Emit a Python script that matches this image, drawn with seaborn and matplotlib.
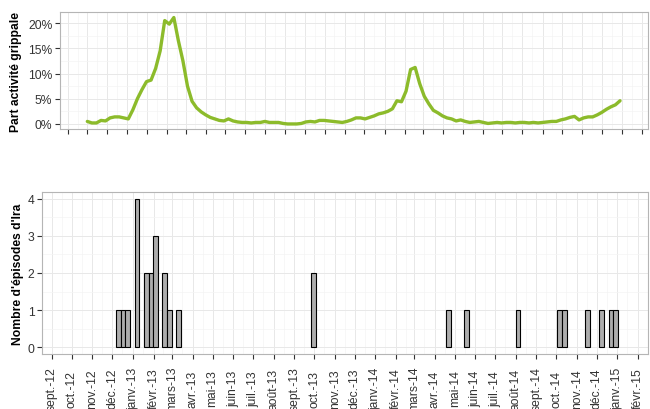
import numpy as np
import pandas as pd
import matplotlib
matplotlib.use("Agg")
import matplotlib.pyplot as plt
import matplotlib.dates as mdates
from matplotlib.ticker import FixedLocator, FuncFormatter, MultipleLocator
import seaborn as sns

# ---------------- data ----------------
flu_start = "2012-10-01"  # first weekly point of the flu-activity series
flu_share = [
    0.5, 0.2, 0.2, 0.7, 0.6, 1.2, 1.4, 1.4, 1.2, 1.0,
    2.8, 5.0, 6.8, 8.4, 8.7, 11.0, 14.5, 20.5, 19.8, 21.1,
    16.5, 12.5, 7.5, 4.5, 3.2, 2.4, 1.8, 1.3, 1.0, 0.7,
    0.6, 1.0, 0.6, 0.4, 0.3, 0.3, 0.2, 0.3, 0.3, 0.5,
    0.3, 0.3, 0.3, 0.1, 0.0, 0.0, 0.0, 0.1, 0.4, 0.5,
    0.4, 0.7, 0.7, 0.6, 0.5, 0.4, 0.3, 0.5, 0.8, 1.2,
    1.2, 1.0, 1.3, 1.6, 2.0, 2.2, 2.5, 3.0, 4.6, 4.4,
    6.5, 10.8, 11.2, 8.0, 5.5, 4.0, 2.7, 2.2, 1.6, 1.2,
    1.0, 0.6, 0.8, 0.5, 0.3, 0.4, 0.5, 0.3, 0.1, 0.2,
    0.3, 0.2, 0.3, 0.3, 0.2, 0.3, 0.3, 0.2, 0.3, 0.2,
    0.3, 0.4, 0.5, 0.5, 0.8, 1.0, 1.3, 1.5, 0.8, 1.2,
    1.4, 1.4, 1.8, 2.3, 2.9, 3.4, 3.8, 4.6,
]

episode_weeks = [
    "2012-12-10", "2012-12-17", "2012-12-24", "2013-01-07", "2013-01-21",
    "2013-01-28", "2013-02-04", "2013-02-18", "2013-02-25", "2013-03-11",
    "2013-09-30", "2014-04-21", "2014-05-19", "2014-08-04", "2014-10-06",
    "2014-10-13", "2014-11-17", "2014-12-08", "2014-12-22", "2014-12-29",
]
episode_counts = [1, 1, 1, 4, 2, 2, 3, 2, 1, 1, 2, 1, 1, 1, 1, 1, 1, 1, 1, 1]

month_labels = [
    "sept.-12", "oct.-12", "nov.-12", "déc.-12", "janv.-13", "févr.-13",
    "mars-13", "avr.-13", "mai-13", "juin-13", "juil.-13", "août-13",
    "sept.-13", "oct.-13", "nov.-13", "déc.-13", "janv.-14", "févr.-14",
    "mars-14", "avr.-14", "mai-14", "juin-14", "juil.-14", "août-14",
    "sept.-14", "oct.-14", "nov.-14", "déc.-14", "janv.-15", "févr.-15",
]
first_month = "2012-09-01"

pct_ticks = [0, 5, 10, 15, 20]
count_ticks = [0, 1, 2, 3, 4]

# ---------------- style ----------------
sns.set_theme(style="white")
plt.rcParams["font.family"] = ["Liberation Sans", "DejaVu Sans"]

LINE_GREEN = "#8cbb2b"
BAR_GREY = "#adadad"
TXT = "#333333"
GRID_MAJ = "#e8e8e8"
GRID_MIN = "#f4f4f4"
BORDER = "#b5b5b5"

W, H = 650, 410
fig = plt.figure(figsize=(W / 100, H / 100), dpi=100)
ax1 = fig.add_axes([60 / W, 1 - 130 / H, 588 / W, 117 / H])
ax2 = fig.add_axes([42 / W, 1 - 355 / H, 606 / W, 162 / H])

month_starts = pd.date_range(first_month, periods=len(month_labels), freq="MS")
mid_months = month_starts + pd.Timedelta(days=15)
month_nums = mdates.date2num(month_starts)
mid_nums = mdates.date2num(mid_months)

# ---------------- top panel: flu activity ----------------
flu_df = pd.DataFrame({
    "semaine": pd.date_range(flu_start, periods=len(flu_share), freq="7D"),
    "part": flu_share,
})
sns.lineplot(data=flu_df, x="semaine", y="part", color=LINE_GREEN,
             linewidth=2.4, ax=ax1)
ax1.set_xlim(mdates.date2num(pd.Timestamp("2012-08-20")),
             mdates.date2num(pd.Timestamp("2015-02-10")))
ax1.set_ylim(-1.0, 22.2)
ax1.xaxis.set_major_locator(FixedLocator(month_nums))
ax1.xaxis.set_minor_locator(FixedLocator(mid_nums))
ax1.set_xticklabels([])
ax1.yaxis.set_major_locator(FixedLocator(pct_ticks))
ax1.yaxis.set_minor_locator(MultipleLocator(2.5))
ax1.yaxis.set_major_formatter(FuncFormatter(lambda v, p: f"{v:.0f}%"))
ax1.set_xlabel("")
ax1.set_ylabel("Part activité grippale", fontsize=8.7, fontweight="bold", color="black")
ax1.yaxis.set_label_coords(-0.064, 0.5)

# ---------------- bottom panel: episodes ----------------
ep_df = pd.DataFrame({
    "semaine": mdates.date2num(pd.to_datetime(episode_weeks)),
    "episodes": episode_counts,
})
sns.barplot(data=ep_df, x="semaine", y="episodes", native_scale=True,
            orient="x", width=1.0, color=BAR_GREY, saturation=1,
            edgecolor="black", linewidth=0.8, errorbar=None, ax=ax2)
ax2.set_xlim(mdates.date2num(pd.Timestamp("2012-08-17")),
             mdates.date2num(pd.Timestamp("2015-02-16")))
ax2.set_ylim(-0.18, 4.18)
ax2.xaxis.set_major_locator(FixedLocator(month_nums))
ax2.xaxis.set_minor_locator(FixedLocator(mid_nums))
ax2.set_xticklabels(month_labels, rotation=90, ha="center", va="center")
ax2.yaxis.set_major_locator(FixedLocator(count_ticks))
ax2.yaxis.set_minor_locator(MultipleLocator(0.5))
ax2.set_xlabel("")
ax2.set_ylabel("Nombre d'épisodes d'Ira", fontsize=8.7, fontweight="bold", color="black")
ax2.yaxis.set_label_coords(-0.029, 0.5)

for ax in (ax1, ax2):
    ax.set_facecolor("white")
    ax.set_axisbelow(True)
    ax.grid(True, which="major", color=GRID_MAJ, linewidth=0.7)
    ax.grid(True, which="minor", color=GRID_MIN, linewidth=0.5)
    for s in ax.spines.values():
        s.set_visible(True)
        s.set_color(BORDER)
        s.set_linewidth(0.8)
    ax.tick_params(axis="both", which="major", direction="out", color=TXT,
                   length=3.5, width=0.8, labelsize=8.7, labelcolor=TXT,
                   bottom=True, left=True)
    ax.tick_params(axis="both", which="minor", length=0)
    ax.tick_params(axis="y", pad=2)

ax2.tick_params(axis="x", pad=21)

fig.savefig("out.png", dpi=100)
